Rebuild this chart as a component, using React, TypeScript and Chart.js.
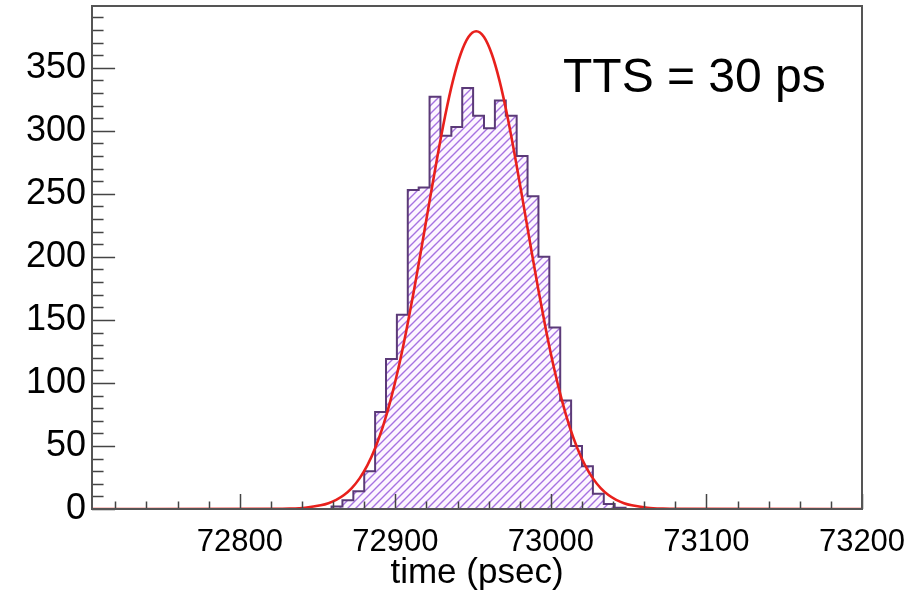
import React, { useEffect, useRef } from "react";
import { Chart, registerables } from "chart.js";

Chart.register(...registerables);

// ---- data ----
const X_MIN = 72705;
const X_MAX = 73200;
const Y_MAX = 399;
const xTickValues = [72800, 72900, 73000, 73100, 73200];
const yTickValues = [0, 50, 100, 150, 200, 250, 300, 350];

// histogram: first bin lower edge, bin width, counts
const binStart = 72859;
const binWidth = 7;
const counts = [
  2, 7, 14, 30, 77, 119, 154, 253, 255, 327, 296, 303, 334, 312, 302, 324,
  312, 280, 248, 200, 144, 86, 50, 34, 12, 4, 1,
];

// gaussian fit curve
const fitX = [
  72705, 72822, 72832, 72842, 72852, 72857, 72862, 72867, 72872, 72877, 72882,
  72887, 72892, 72897, 72902, 72907, 72912, 72917, 72922, 72927, 72932, 72937,
  72942, 72947, 72952, 72957, 72962, 72967, 72972, 72977, 72982, 72987, 72992,
  72997, 73002, 73007, 73012, 73017, 73022, 73027, 73032, 73037, 73042, 73047,
  73052, 73062, 73072, 73082, 73200,
];
const fitY = [
  0, 0.1, 0.3, 1.0, 2.9, 4.6, 7.3, 11.1, 16.6, 24.3, 34.6, 48.2, 65.3, 86.5,
  111.8, 141.0, 173.5, 208.4, 244.2, 279.3, 311.8, 339.6, 360.9, 374.4, 379,
  374.4, 360.9, 339.6, 311.8, 279.3, 244.2, 208.4, 173.5, 141.0, 111.8, 86.5,
  65.3, 48.2, 34.6, 24.3, 16.6, 11.1, 7.3, 4.6, 2.9, 1.0, 0.3, 0.1, 0,
];

const annotationText = "TTS = 30 ps";
const xTitle = "time (psec)";

const FONT = "'Liberation Sans', Arial, Helvetica, sans-serif";

function makeHatch(): CanvasPattern | string {
  const c = document.createElement("canvas");
  const s = 8;
  c.width = s;
  c.height = s;
  const g = c.getContext("2d");
  if (!g) return "rgba(160,110,220,0.4)";
  g.fillStyle = "#fdf6ff";
  g.fillRect(0, 0, s, s);
  g.strokeStyle = "rgba(150,90,220,0.85)";
  g.lineWidth = 1.4;
  g.beginPath();
  g.moveTo(-1, s + 1);
  g.lineTo(s + 1, -1);
  g.moveTo(-1, 1);
  g.lineTo(1, -1);
  g.moveTo(s - 1, s + 1);
  g.lineTo(s + 1, s - 1);
  g.stroke();
  const p = g.createPattern(c, "repeat");
  return p || "rgba(160,110,220,0.4)";
}

const framePlugin = {
  id: "rootFrame",
  afterDatasetsDraw(chart: any) {
    const { ctx, chartArea, scales } = chart;
    const xs = scales.x;
    const ys = scales.y;
    const { left, right, top, bottom } = chartArea;
    const w = right - left;
    const h = bottom - top;
    ctx.save();
    // ticks (inward)
    ctx.strokeStyle = "#444";
    ctx.lineWidth = 1.5;
    ctx.beginPath();
    for (let v = 0; v <= ys.max + 1e-9; v += 10) {
      const py = Math.round(ys.getPixelForValue(v)) + 0.5;
      const len = v % 50 === 0 ? 0.03 * w : 0.015 * w;
      ctx.moveTo(left, py);
      ctx.lineTo(left + len, py);
    }
    const startX = Math.ceil(xs.min / 20) * 20;
    for (let v = startX; v <= xs.max + 1e-9; v += 20) {
      const px = Math.round(xs.getPixelForValue(v)) + 0.5;
      const len = v % 100 === 0 ? 0.03 * h : 0.015 * h;
      ctx.moveTo(px, bottom);
      ctx.lineTo(px, bottom - len);
    }
    ctx.stroke();
    // frame
    ctx.strokeStyle = "#555";
    ctx.lineWidth = 2;
    ctx.strokeRect(left, top, w, h);
    // annotation
    ctx.fillStyle = "#000";
    ctx.font = `48px ${FONT}`;
    ctx.textAlign = "left";
    ctx.textBaseline = "alphabetic";
    ctx.fillText(annotationText, 563, 92);
    ctx.restore();
  },
};

export default function App() {
  const ref = useRef<HTMLCanvasElement | null>(null);

  useEffect(() => {
    document.body.style.margin = "0";
    const canvas = ref.current;
    if (!canvas) return;

    const histPoints: { x: number; y: number }[] = [{ x: binStart, y: 0 }];
    counts.forEach((c, i) => histPoints.push({ x: binStart + i * binWidth, y: c }));
    histPoints.push({ x: binStart + counts.length * binWidth, y: 0 });

    const fitPoints = fitX.map((x, i) => ({ x, y: fitY[i] }));

    const chart = new Chart(canvas, {
      type: "line",
      data: {
        datasets: [
          {
            label: "fit",
            data: fitPoints,
            borderColor: "#e8201c",
            borderWidth: 2.6,
            pointRadius: 0,
            cubicInterpolationMode: "monotone",
            fill: false,
            order: 0,
          },
          {
            label: "hist",
            data: histPoints,
            stepped: "before",
            borderColor: "#5b3a78",
            borderWidth: 2,
            pointRadius: 0,
            fill: "origin",
            backgroundColor: makeHatch() as any,
            order: 1,
          },
        ],
      },
      options: {
        animation: false,
        responsive: false,
        events: [],
        layout: { padding: { top: 6, right: 52, left: 0, bottom: 0 } },
        plugins: {
          legend: { display: false },
          tooltip: { enabled: false },
        },
        scales: {
          x: {
            type: "linear",
            min: X_MIN,
            max: X_MAX,
            afterBuildTicks: (s: any) => {
              s.ticks = xTickValues.map((v) => ({ value: v }));
            },
            afterFit: (s: any) => {
              s.height = 82;
              s.paddingLeft = 0;
              s.paddingRight = 0;
            },
            grid: { display: false, drawTicks: false },
            border: { display: false },
            ticks: {
              autoSkip: false,
              maxRotation: 0,
              padding: 15,
              color: "#000",
              font: { family: FONT, size: 31 },
              callback: (v: any) => String(v),
            },
            title: {
              display: true,
              text: xTitle,
              color: "#000",
              font: { family: FONT, size: 35, lineHeight: 1 },
              padding: { top: 0, bottom: 0 },
            },
          },
          y: {
            type: "linear",
            min: 0,
            max: Y_MAX,
            afterBuildTicks: (s: any) => {
              s.ticks = yTickValues.map((v) => ({ value: v }));
            },
            afterFit: (s: any) => {
              s.width = 92;
              s.paddingTop = 0;
              s.paddingBottom = 0;
            },
            grid: { display: false, drawTicks: false },
            border: { display: false },
            ticks: {
              padding: 6,
              color: "#000",
              font: { family: FONT, size: 36 },
              callback: (v: any) => String(v),
            },
          },
        },
      },
      plugins: [framePlugin],
    });

    return () => chart.destroy();
  }, []);

  return (
    <div style={{ width: 914, height: 591, background: "#fff" }}>
      <canvas ref={ref} width={914} height={591} style={{ display: "block" }} />
    </div>
  );
}
